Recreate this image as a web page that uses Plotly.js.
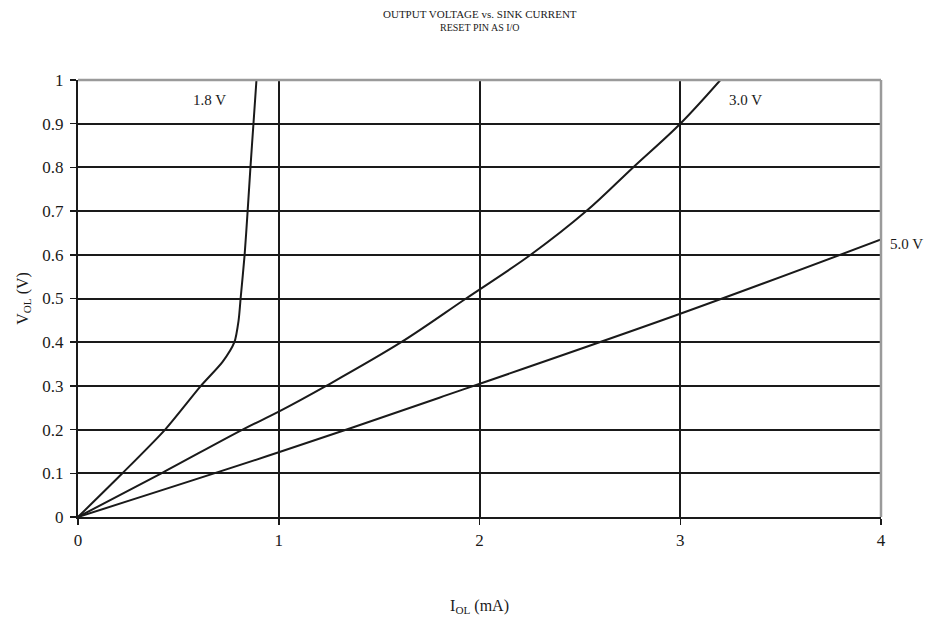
<!DOCTYPE html>
<html>
<head>
<meta charset="utf-8">
<script src="https://cdn.plot.ly/plotly-3.0.1.min.js"></script>
<style>html,body{margin:0;padding:0;background:#fff;}#chart{width:933px;height:622px;}</style>
</head>
<body>
<div id="chart"></div>
<script>
// 1.8 V supply
const i18 = [0, 0.221, 0.434, 0.612, 0.72, 0.779, 0.800, 0.810, 0.830, 0.845, 0.859, 0.874, 0.889];
const v18 = [0, 0.10, 0.20, 0.30, 0.355, 0.40, 0.45, 0.50, 0.60, 0.70, 0.80, 0.90, 1.00];
// 3.0 V supply
const i30 = [0, 0.415, 0.82, 1.0, 1.236, 1.61, 1.933, 2.255, 2.532, 2.765, 3.0, 3.2];
const v30 = [0, 0.10, 0.20, 0.241, 0.30, 0.40, 0.50, 0.60, 0.70, 0.80, 0.90, 1.00];
// 5.0 V supply
const i50 = [0, 1.0, 1.8, 3.0, 4.0];
const v50 = [0, 0.148, 0.273, 0.465, 0.635];

const xTicks = [0, 1, 2, 3, 4];
const yTicks = [0, 0.1, 0.2, 0.3, 0.4, 0.5, 0.6, 0.7, 0.8, 0.9, 1];
const yTickText = ['0', '0.1', '0.2', '0.3', '0.4', '0.5', '0.6', '0.7', '0.8', '0.9', '1'];
const seriesLabels = ['1.8 V', '3.0 V', '5.0 V'];

const font = 'Liberation Serif, Times New Roman, serif';
const ink = '#1a1a1a';

const traces = [
  {x: i18, y: v18, mode: 'lines', line: {color: ink, width: 2, shape: 'spline', smoothing: 0.7}, name: seriesLabels[0]},
  {x: i30, y: v30, mode: 'lines', line: {color: ink, width: 2, shape: 'spline', smoothing: 1}, name: seriesLabels[1]},
  {x: i50, y: v50, mode: 'lines', line: {color: ink, width: 2, shape: 'spline', smoothing: 1}, name: seriesLabels[2]}
];

const layout = {
  width: 933, height: 622,
  margin: {l: 78, r: 52, t: 80, b: 105},
  paper_bgcolor: '#fff', plot_bgcolor: '#fff',
  showlegend: false,
  font: {family: font, color: ink, size: 16},
  xaxis: {
    range: [0, 4], tickvals: xTicks, ticktext: xTicks.map(String),
    showgrid: true, gridcolor: ink, gridwidth: 2,
    showline: true, linecolor: ink, linewidth: 2,
    ticks: 'outside', ticklen: 6, tickcolor: ink, tickwidth: 1.5,
    ticklabelstandoff: 1,
    zeroline: false, fixedrange: true, automargin: false,
    tickfont: {family: font, size: 17, color: ink},
    title: {text: 'I<sub>OL</sub> (mA)', font: {family: font, size: 16, color: ink}, standoff: 50}
  },
  yaxis: {
    range: [0, 1], tickvals: yTicks, ticktext: yTickText,
    showgrid: true, gridcolor: ink, gridwidth: 2,
    showline: true, linecolor: ink, linewidth: 2,
    ticks: 'outside', ticklen: 6, tickcolor: ink, tickwidth: 1.5,
    ticklabelstandoff: 3,
    zeroline: false, fixedrange: true, automargin: false,
    tickfont: {family: font, size: 17, color: ink},
    title: {text: 'V<sub>OL</sub> (V)', font: {family: font, size: 16, color: ink}, standoff: 10}
  },
  shapes: [
    {type: 'line', xref: 'paper', yref: 'paper', x0: 0, x1: 1, y0: 1, y1: 1, line: {color: '#9a9a9a', width: 2.5}, layer: 'above'},
    {type: 'line', xref: 'paper', yref: 'paper', x0: 1, x1: 1, y0: 0, y1: 1, line: {color: '#9a9a9a', width: 2.5}, layer: 'above'}
  ],
  annotations: [
    {x: 0.5, y: 1.151, xref: 'paper', yref: 'paper', text: 'OUTPUT VOLTAGE vs. SINK CURRENT', showarrow: false, xanchor: 'center', yanchor: 'middle', font: {family: font, size: 11, color: ink}},
    {x: 0.5, y: 1.119, xref: 'paper', yref: 'paper', text: 'RESET PIN AS I/O', showarrow: false, xanchor: 'center', yanchor: 'middle', font: {family: font, size: 10, color: ink}},
    {x: 0.747, y: 0.955, xref: 'x', yref: 'y', text: seriesLabels[0], showarrow: false, xanchor: 'right', yanchor: 'middle', font: {family: font, size: 15, color: ink}},
    {x: 3.233, y: 0.955, xref: 'x', yref: 'y', text: seriesLabels[1], showarrow: false, xanchor: 'left', yanchor: 'middle', font: {family: font, size: 15, color: ink}},
    {x: 1.009, y: 0.625, xref: 'paper', yref: 'paper', text: seriesLabels[2], showarrow: false, xanchor: 'left', yanchor: 'middle', font: {family: font, size: 15, color: ink}}
  ]
};

Plotly.newPlot('chart', traces, layout, {displayModeBar: false, staticPlot: true});
</script>
</body>
</html>
